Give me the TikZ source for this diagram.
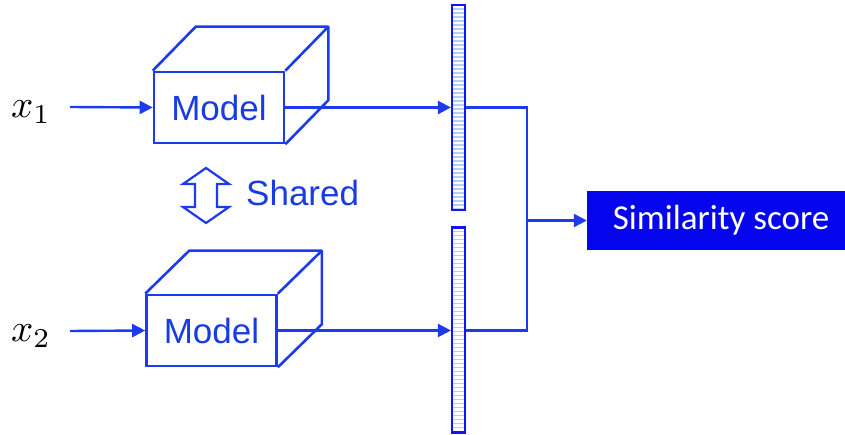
\documentclass[tikz,border=0pt]{standalone}
\usepackage{fontspec}
\setmainfont{Liberation Sans}
\newfontfamily\calib{Carlito}
\usetikzlibrary{arrows.meta,calc}
\definecolor{lineblue}{RGB}{28,58,238}
\definecolor{textblue}{RGB}{24,60,225}
\definecolor{vecblue}{RGB}{20,20,250}
\definecolor{stripeblue}{RGB}{178,210,240}
\definecolor{scoreblue}{RGB}{5,5,240}
\tikzset{
  conn/.style={draw=lineblue, line width=2.4pt},
  arr/.style={conn, -{Triangle[length=13pt,width=13pt]}},
  facebox/.style={draw=lineblue, line width=2.6pt, rectangle, inner sep=0pt,
    minimum width=130pt, minimum height=71pt, text=textblue,
    font=\fontsize{35}{38}\selectfont},
  edge3d/.style={draw=lineblue, line width=2.6pt, line join=round},
  vecbox/.style={draw=vecblue, line width=2.2pt, rectangle, inner sep=0pt,
    minimum width=13pt, minimum height=205pt, fill=white,
    path picture={\foreach \k in {1,...,52}
      \draw[stripeblue, line width=1.8pt]
        ([yshift=-\k*4pt]path picture bounding box.north west) --
        ([yshift=-\k*4pt]path picture bounding box.north east);}},
  scorebox/.style={fill=scoreblue, draw=none, rectangle, inner sep=0pt,
    minimum width=258pt, minimum height=59pt, text=white,
    font=\calib\fontsize{35}{38}\selectfont},
  inlabel/.style={inner sep=0pt, scale=3.9},
  sharedtext/.style={text=textblue, inner sep=0pt, font=\fontsize{35}{38}\selectfont}
}
\begin{document}
\begin{tikzpicture}[x=1pt, y=-1pt]
  \useasboundingbox (0,0) rectangle (845,435);

  % input labels
  \node[inlabel] (x1) at (31,112) {$x_1$};
  \node[inlabel] (x2) at (31,336) {$x_2$};
  \coordinate (in1) at (70,107);
  \coordinate (in2) at (70,331);

  % model boxes (front faces) with their 3D top and side
  \node[facebox] (m1) at (219,107.5) {Model};
  \node[facebox] (m2) at (211.5,330.5) {Model};
  \foreach \m/\dx/\dy in {m1/43/44, m2/44/43} {
    \draw[edge3d] (\m.north west) -- ++(\dx,-\dy) -- ($(\m.north east)+(\dx,-\dy)$)
      -- ($(\m.south east)+(\dx,-\dy)$) -- (\m.south east);
    \draw[edge3d] (\m.north east) -- ++(\dx,-\dy);
  }

  % embedding vectors
  \node[vecbox] (v1) at (458.5,107.5) {};
  \node[vecbox] (v2) at (458.5,330) {};

  % similarity score
  \node[scorebox] (sim) at (716,220.5) {\hspace*{10pt}Similarity score};
  \coordinate (j) at (527,220.5);

  % connectors
  \draw[arr] (in1) -- (m1.west);
  \draw[arr] (in2) -- (m2.west);
  \draw[arr] (m1.east) -- (m1.east -| v1.west);
  \draw[arr] (m2.east) -- (m2.east -| v2.west);
  \draw[conn, line join=miter] (v1.east |- m1.east) -| (j);
  \draw[conn, line join=miter] (v2.east |- m2.east) -| (j);
  \draw[arr] (j) -- (sim.west);

  % shared-weights double arrow
  \draw[draw=lineblue, line width=2.2pt, line join=miter, fill=white]
    (206,168) -- (229,184) -- (217,184) -- (217,207) -- (229,207) -- (206,223)
    -- (183,207) -- (195,207) -- (195,184) -- (183,184) -- cycle;
  \node[sharedtext, anchor=west] (shared) at (246,193) {Shared};
\end{tikzpicture}
\end{document}
